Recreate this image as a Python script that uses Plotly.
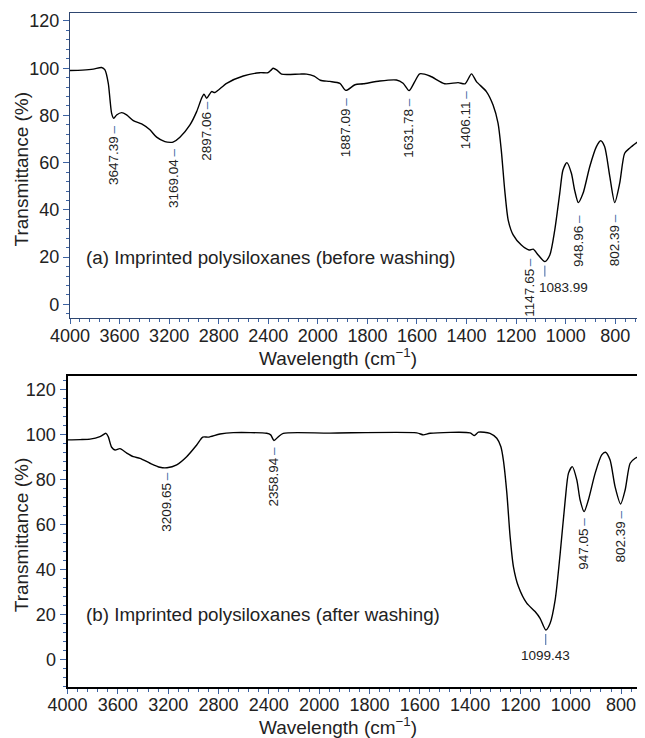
import plotly.graph_objects as go

# spectrum (a): imprinted polysiloxanes before washing
wn_a = [4000, 3900, 3812, 3745, 3718, 3691, 3677, 3664, 3647, 3624, 3583, 3543,
        3489, 3422, 3355, 3301, 3234, 3190, 3169, 3113, 3032, 2978, 2938, 2919,
        2897, 2857, 2831, 2736, 2602, 2468, 2401, 2375, 2360, 2333, 2293, 2150,
        2091, 2030, 1990, 1952, 1911, 1887, 1850, 1817, 1750, 1683, 1656, 1632,
        1609, 1589, 1548, 1488, 1434, 1406, 1380, 1360, 1320, 1293, 1273, 1260,
        1246, 1232, 1212, 1179, 1148, 1131, 1111, 1084, 1064, 1044, 1024, 1011,
        995, 977, 964, 949, 930, 903, 876, 859, 843, 822, 802, 782, 762, 742, 681]
t_a = [99.0, 99.2, 99.6, 100.3, 99.3, 93.6, 86.6, 80.9, 78.8, 80.2, 81.2, 80.2,
       77.8, 76.4, 73.9, 70.8, 68.9, 68.6, 68.7, 70.8, 76.0, 81.6, 87.3, 89.0,
       87.3, 90.1, 89.7, 93.6, 96.7, 98.1, 98.1, 99.3, 100.0, 99.3, 97.5, 97.5,
       97.5, 96.6, 94.9, 94.4, 93.6, 90.6, 93.0, 93.4, 94.6, 95.0, 93.6, 90.5,
       94.3, 97.6, 96.7, 93.4, 93.9, 93.4, 97.6, 94.3, 90.1, 84.4, 76.7, 65.4,
       48.4, 35.7, 29.4, 25.1, 23.0, 23.4, 20.9, 18.1, 20.9, 31.5, 47.0, 56.9,
       60.0, 55.5, 48.4, 43.1, 47.0, 58.3, 66.8, 69.3, 66.8, 54.1, 43.1, 51.3,
       64.0, 66.1, 71.0]

# spectrum (b): imprinted polysiloxanes after washing
wn_b = [4000, 3900, 3821, 3742, 3694, 3676, 3649, 3622, 3583, 3529, 3477, 3424,
        3344, 3265, 3209, 3132, 3053, 2973, 2925, 2881, 2788, 2682, 2417, 2385,
        2359, 2324, 2285, 1957, 1612, 1586, 1559, 1400, 1383, 1367, 1321, 1294,
        1278, 1268, 1254, 1241, 1228, 1208, 1175, 1142, 1122, 1099, 1082, 1062,
        1042, 1022, 1009, 994, 976, 963, 947, 930, 903, 877, 862, 844, 824, 802,
        784, 764, 744, 705]
t_b = [97.5, 97.6, 97.8, 98.9, 100.4, 98.9, 94.2, 93.0, 93.6, 91.6, 90.0, 89.3,
       87.1, 85.3, 85.1, 86.4, 90.0, 95.2, 98.7, 98.7, 100.1, 100.7, 100.4, 99.7,
       97.2, 98.9, 100.4, 100.5, 100.6, 99.7, 100.4, 100.6, 99.4, 100.9, 100.4, 98.2,
       94.5, 88.6, 73.8, 54.5, 41.2, 32.3, 24.9, 21.2, 18.2, 13.0, 16.0, 26.4,
       47.1, 70.8, 82.7, 85.6, 79.7, 70.8, 65.6, 70.8, 82.7, 90.8, 92.0, 88.6, 76.7, 69.0,
       75.2, 87.1, 89.3, 91.2]

# labelled peaks
peaks_a = [3647.39, 3169.04, 2897.06, 1887.09, 1631.78, 1406.11, 1147.65, 948.96, 802.39]
peak_t_a = [78.8, 68.7, 87.3, 90.6, 90.5, 93.4, 23.0, 43.1, 43.1]
flat_a, flat_t_a = 1083.99, 18.1
peaks_b = [3209.65, 2358.94, 947.05, 802.39]
peak_t_b = [85.1, 97.2, 65.6, 69.0]
flat_b, flat_t_b = 1099.43, 13.0

tick_wn = [4000, 3600, 3200, 2800, 2400, 2000, 1800, 1600, 1400, 1200, 1000, 800]


def to_disp(w):
    # the axis is expanded 2x below 2000 cm-1
    return 4000 - w if w >= 2000 else 2000 + 2 * (2000 - w)


# the page body adds an 8px margin, so the figure is sized to fill the rest
W, H = 637, 730
FONT = "Liberation Sans, Arial, sans-serif"
DASH = "#3d63a3"
TXT = "#222"

fig = go.Figure()
fig.add_trace(go.Scatter(x=[to_disp(w) for w in wn_a], y=t_a, mode="lines",
                         line=dict(color="black", width=1.4, shape="spline", smoothing=0.7),
                         xaxis="x", yaxis="y", showlegend=False))
fig.add_trace(go.Scatter(x=[to_disp(w) for w in wn_b], y=t_b, mode="lines",
                         line=dict(color="black", width=1.4, shape="spline", smoothing=0.7),
                         xaxis="x2", yaxis="y2", showlegend=False))

xcommon = dict(tickmode="array", tickvals=[to_disp(w) for w in tick_wn],
               ticktext=[str(w) for w in tick_wn], ticks="outside", ticklen=5,
               ticklabelstandoff=-4,
               tickfont=dict(size=18, color=TXT), showgrid=False, zeroline=False,
               automargin=False, showline=True, mirror=True, tickcolor=DASH,
               minor=dict(tickmode="linear", tick0=0, dtick=80, ticks="outside",
                          ticklen=3, tickcolor=DASH))
ycommon = dict(tickvals=[0, 20, 40, 60, 80, 100, 120], ticks="outside", ticklen=6,
               tickfont=dict(size=18, color=TXT), showgrid=False, zeroline=False,
               automargin=False, showline=True, tickcolor=DASH,
               minor=dict(tickmode="linear", tick0=0, dtick=4, ticks="outside",
                          ticklen=3, tickcolor=DASH))

fig.update_layout(
    width=W, height=H, margin=dict(l=0, r=0, t=0, b=0),
    paper_bgcolor="white", plot_bgcolor="white", font=dict(family=FONT),
    xaxis=dict(xcommon, domain=[62 / W, 1], range=[0, to_disp(680)], anchor="y",
               linecolor="#2e4670", linewidth=1.3),
    yaxis=dict(ycommon, domain=[1 - 310.3 / H, 1 - 4.7 / H], range=[-5.9, 123.5],
               anchor="x", linecolor="#2e4670", linewidth=1.3),
    xaxis2=dict(xcommon, domain=[59.5 / W, 1], range=[0, to_disp(705)], anchor="y2",
                linecolor="black", linewidth=2),
    yaxis2=dict(ycommon, domain=[1 - 678.7 / H, 1 - 367.7 / H], range=[-12.2, 126],
                anchor="x2", linecolor="black", linewidth=2),
)


def peak_label(w, t, xr, yr, gap):
    fig.add_annotation(x=to_disp(w), y=t, xref=xr, yref=yr, showarrow=False,
                       text=f"{w:.2f}<span style='color:{DASH}'>\u2009–</span>",
                       textangle=-90, xanchor="center", yanchor="top", yshift=-gap,
                       font=dict(size=13.5, color=TXT), borderpad=0)


gaps_a = [6, 5, 2, 6, 6, 6, 7, 11, 11]
for w, t, g in zip(peaks_a, peak_t_a, gaps_a):
    peak_label(w, t, "x", "y", g)
gaps_b = [3, 5, 5, 5]
for w, t, g in zip(peaks_b, peak_t_b, gaps_b):
    peak_label(w, t, "x2", "y2", g)


def flat_label(w, t, xr, yr, xanchor="center", xshift=0):
    fig.add_shape(type="line", xref=xr, yref=yr, x0=to_disp(w), x1=to_disp(w),
                  ysizemode="pixel", yanchor=t, y0=-4, y1=-15,
                  line=dict(color=DASH, width=1))
    fig.add_annotation(x=to_disp(w), y=t, xref=xr, yref=yr, showarrow=False,
                       text=f"{w:.2f}", xanchor=xanchor, xshift=xshift, yanchor="top",
                       yshift=-16, font=dict(size=13.5, color=TXT))


flat_label(flat_a, flat_t_a, "x", "y", xanchor="left", xshift=-8)
flat_label(flat_b, flat_t_b, "x2", "y2")

fig.add_annotation(x=(84 - 70) / 575, y=20, xref="x domain", yref="y", showarrow=False,
                   text="(a) Imprinted polysiloxanes (before washing)", xanchor="left",
                   yanchor="middle", font=dict(size=18.8, color=TXT))
fig.add_annotation(x=(84 - 67.5) / 577.5, y=20, xref="x2 domain", yref="y2", showarrow=False,
                   text="(b) Imprinted polysiloxanes (after washing)", xanchor="left",
                   yanchor="middle", font=dict(size=18.8, color=TXT))

# axis titles
for yr in ("y domain", "y2 domain"):
    fig.add_annotation(x=13 / W, y=0.487, xref="paper", yref=yr, showarrow=False,
                       text="Transmittance (%)", textangle=-90, xanchor="center",
                       yanchor="middle", font=dict(size=19, color=TXT))
for ypix in (349, 718):
    fig.add_annotation(x=330 / W, y=1 - ypix / H, xref="paper", yref="paper", showarrow=False,
                       text="Wavelength (cm<sup>−1</sup>)", xanchor="center",
                       yanchor="middle", font=dict(size=19, color=TXT))

fig.write_html("out.html")
